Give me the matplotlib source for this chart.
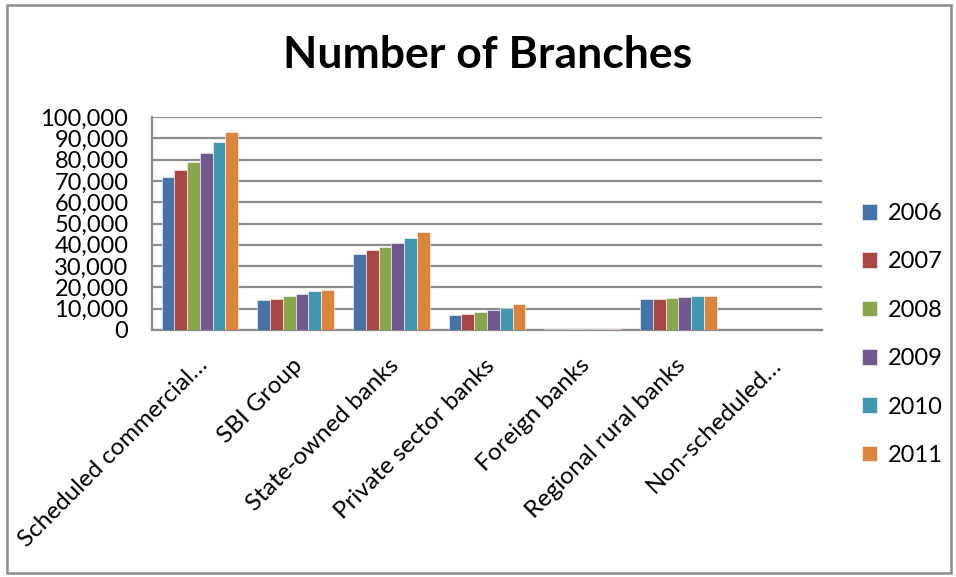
import matplotlib

matplotlib.use("Agg")

import matplotlib.pyplot as plt
import matplotlib.transforms as mtransforms
import numpy as np
from matplotlib.patches import Rectangle
from matplotlib.ticker import FuncFormatter

categories = [
    "Scheduled commercial\u2026",
    "SBI Group",
    "State-owned banks",
    "Private sector banks",
    "Foreign banks",
    "Regional rural banks",
    "Non-scheduled\u2026",
]
years = ["2006", "2007", "2008", "2009", "2010", "2011"]

v2006 = [72000, 14000, 35800, 6900, 270, 14700, 5]
v2007 = [74900, 14500, 37400, 7500, 279, 14750, 5]
v2008 = [78700, 15800, 39200, 8300, 285, 15000, 5]
v2009 = [83000, 16900, 40800, 9200, 295, 15500, 5]
v2010 = [88100, 18100, 43400, 10500, 310, 15900, 5]
v2011 = [93100, 18750, 46000, 12000, 323, 16100, 5]
series = [v2006, v2007, v2008, v2009, v2010, v2011]

colors = ["#4572A7", "#AA4643", "#89A54E", "#71588F", "#4198AF", "#DB843D"]

plt.rcParams["font.family"] = ["Lato", "DejaVu Sans"]

fig = plt.figure(figsize=(9.56, 5.77), dpi=100)
fig.patch.set_facecolor("white")
ax = fig.add_axes([152 / 956, 247 / 577, 670 / 956, 213 / 577])

x = np.arange(len(categories))
width = 0.8 / len(years)
for i, (vals, c, yr) in enumerate(zip(series, colors, years)):
    ax.bar(x - 0.4 + width * (i + 0.5), vals, width, color=c, label=yr,
           edgecolor="white", linewidth=0.4, zorder=3)

ax.set_xlim(-0.5, len(categories) - 0.5)
ax.set_ylim(0, 100000)
ax.set_yticks(np.arange(0, 100001, 10000))
ax.yaxis.set_major_formatter(FuncFormatter(lambda v, p: f"{int(v):,}"))
ax.grid(axis="y", color="#8C8C8C", linewidth=1.6, zorder=0)
for s in ("top", "right"):
    ax.spines[s].set_visible(False)
for s in ("left", "bottom"):
    ax.spines[s].set_color("#8C8C8C")
    ax.spines[s].set_linewidth(1.6)
ax.tick_params(axis="y", length=0, labelsize=17, pad=17)
ax.tick_params(axis="x", length=0, labelsize=17.5, pad=0)

ax.set_xticks(x)
ax.set_xticklabels(categories, rotation=45, ha="right", va="center",
                   rotation_mode="anchor")
offset = mtransforms.ScaledTranslation(0.04, -0.32, fig.dpi_scale_trans)
for lbl in ax.get_xticklabels():
    lbl.set_transform(lbl.get_transform() + offset)

fig.text(0.51, 0.905, "Number of Branches", ha="center", va="center",
         fontsize=32, fontweight="bold")

fig.legend(loc="upper left", bbox_to_anchor=(862 / 956, 1 - 203 / 577),
           frameon=False, fontsize=17, handlelength=0.64, handleheight=0.64,
           handletextpad=0.45, labelspacing=1.16, borderpad=0, borderaxespad=0)

fig.patches.append(Rectangle((7 / 956, 4 / 577), 944 / 956, 568 / 577,
                             transform=fig.transFigure, fill=False,
                             edgecolor="#8C8C8C", linewidth=1.8))

fig.savefig("out.png", dpi=100)
